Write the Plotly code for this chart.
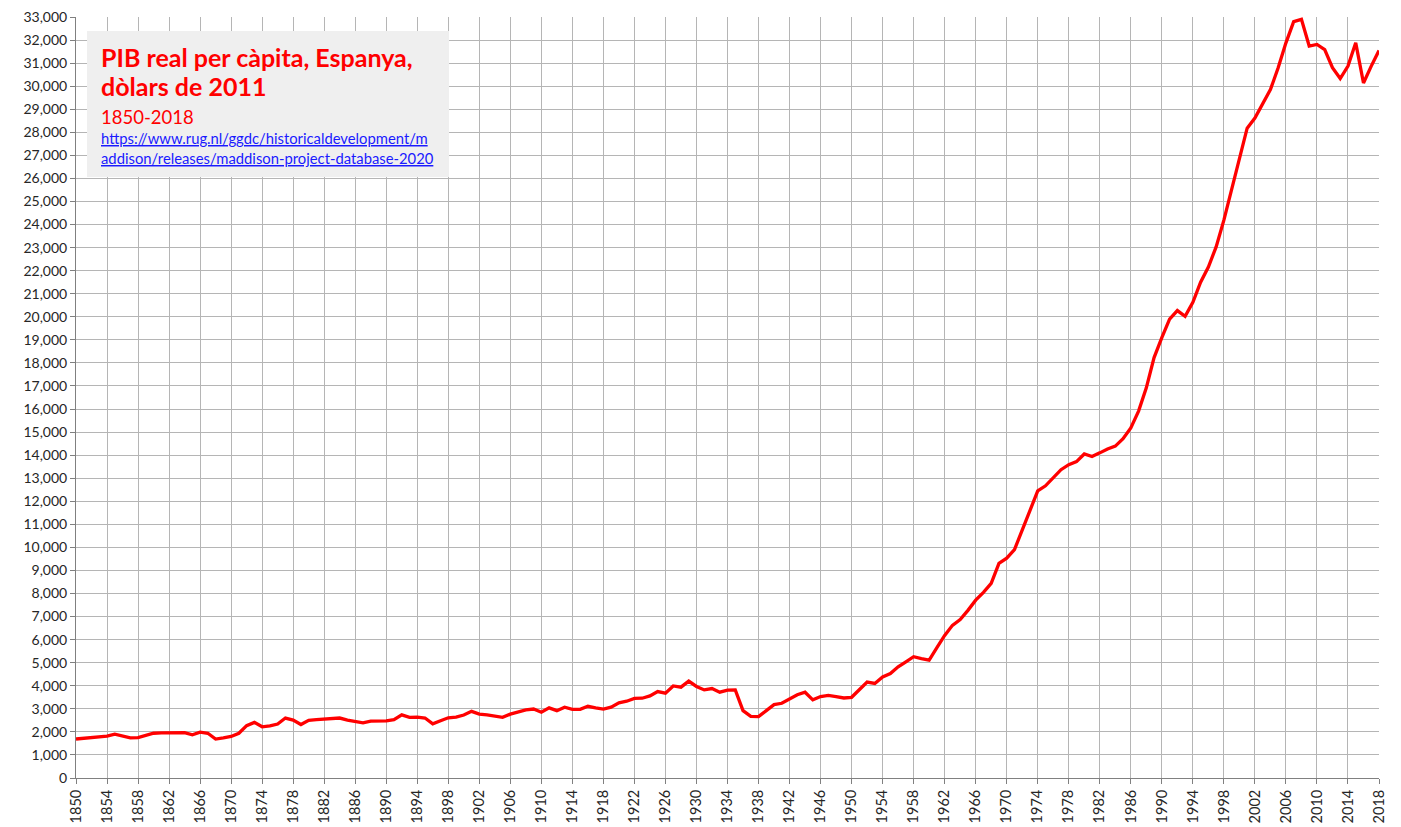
import plotly.graph_objects as go

years = list(range(1850, 2019))
gdp_pc = [
    1690, 1720, 1770, 1800, 1820, 1900, 1810, 1740, 1750, 1850,  # 1850-1859
    1940, 1960, 1960, 1970, 1970, 1870, 1985, 1940, 1690, 1740,  # 1860-1869
    1800, 1940, 2270, 2410, 2220, 2260, 2340, 2600, 2510, 2320,  # 1870-1879
    2500, 2530, 2550, 2580, 2600, 2510, 2440, 2390, 2470, 2480,  # 1880-1889
    2480, 2530, 2740, 2630, 2640, 2600, 2350, 2480, 2610, 2640,  # 1890-1899
    2730, 2890, 2770, 2740, 2690, 2630, 2770, 2850, 2950, 2990,  # 1900-1909
    2850, 3040, 2920, 3070, 2980, 2980, 3110, 3040, 2990, 3070,  # 1910-1919
    3260, 3330, 3450, 3460, 3560, 3750, 3680, 3990, 3940, 4200,  # 1920-1929
    3970, 3820, 3880, 3720, 3810, 3820, 2920, 2670, 2660, 2920,  # 1930-1939
    3180, 3240, 3430, 3610, 3720, 3390, 3530, 3580, 3530, 3470,  # 1940-1949
    3500, 3820, 4160, 4100, 4380, 4530, 4820, 5040, 5260, 5180,  # 1950-1959
    5110, 5650, 6180, 6620, 6870, 7270, 7710, 8050, 8440, 9310,  # 1960-1969
    9530, 9900, 10770, 11650, 12450, 12670, 13030, 13370, 13590, 13720,  # 1970-1979
    14050, 13940, 14100, 14270, 14390, 14710, 15180, 15910, 16920, 18230,  # 1980-1989
    19100, 19900, 20270, 20020, 20630, 21500, 22160, 23030, 24190, 25500,  # 1990-1999
    26880, 28180, 28620, 29200, 29850, 30800, 31880, 32800, 32900, 31740,  # 2000-2009
    31810, 31590, 30800, 30330, 30870, 31880, 30140, 30870, 31550,  # 2010-2018
]

title_line1 = "PIB real per càpita, Espanya,"
title_line2 = "dòlars de 2011"
subtitle = "1850-2018"
link_url = "https://www.rug.nl/ggdc/historicaldevelopment/maddison/releases/maddison-project-database-2020"
link_line1 = "https://www.rug.nl/ggdc/historicaldevelopment/m"
link_line2 = "addison/releases/maddison-project-database-2020"

FONT = "Lato, 'Open Sans', sans-serif"
# page body has an 8px margin; the figure starts at (8, 8) in the window
OFF = 8
W, H = 1401 - OFF, 827 - OFF
ML, MT = 76 - OFF, 17 - OFF
MR = (W + OFF) - 1379
MB = (H + OFF) - 778
PW, PH = W - ML - MR, H - MT - MB


def px(x):
    return (x - OFF - ML) / PW


def py(y):
    return (OFF + H - MB - y) / PH


fig = go.Figure()
fig.add_trace(go.Scatter(
    x=years, y=gdp_pc, mode="lines",
    line=dict(color="#ff0000", width=3.3),
    hoverinfo="x+y", showlegend=False, cliponaxis=False,
))

fig.add_shape(type="rect", xref="paper", yref="paper",
              x0=px(87), x1=px(449), y0=py(177), y1=py(31),
              fillcolor="#efefef", line=dict(width=0), layer="above")

ann = [
    (title_line1, py(57), 25, "#ff0000", True, False),
    (title_line2, py(86), 25, "#ff0000", True, False),
    (subtitle, py(117), 18.5, "#ff0000", False, False),
    (link_line1, py(138), 14.8, "#1a1aff", False, True),
    (link_line2, py(158), 14.8, "#1a1aff", False, True),
]
for text, y, size, color, bold, link in ann:
    t = text
    if bold:
        t = "<b>" + t + "</b>"
    if link:
        t = ('<a href="' + link_url + '" style="color:' + color +
             ';text-decoration:underline">' + t + '</a>')
    fig.add_annotation(text=t, xref="paper", yref="paper", x=px(99), y=y,
                       xanchor="left", yanchor="middle", showarrow=False,
                       font=dict(family=FONT, size=size, color=color))

fig.update_layout(
    width=W, height=H,
    margin=dict(l=ML, r=MR, t=MT, b=MB, autoexpand=False),
    plot_bgcolor="white", paper_bgcolor="white",
    font=dict(family=FONT, color="#262626"),
    xaxis=dict(range=[1850, 2018], tick0=1850, dtick=4, tickangle=-90,
               automargin=False, ticklabeloverflow="allow",
               showgrid=True, gridcolor="#b5b5b5", gridwidth=1,
               showline=True, linecolor="#808080", linewidth=1,
               ticks="outside", ticklen=5, tickcolor="#808080",
               tickfont=dict(size=14.5, color="#262626"), zeroline=False),
    yaxis=dict(range=[0, 33000], tick0=0, dtick=1000, tickformat=",d",
               automargin=False, ticklabeloverflow="allow",
               showgrid=True, gridcolor="#b5b5b5", gridwidth=1,
               showline=True, linecolor="#808080", linewidth=1,
               ticks="outside", ticklen=5, tickcolor="#808080",
               tickfont=dict(size=14, color="#262626"), zeroline=False),
)

fig.write_html("out.html")
